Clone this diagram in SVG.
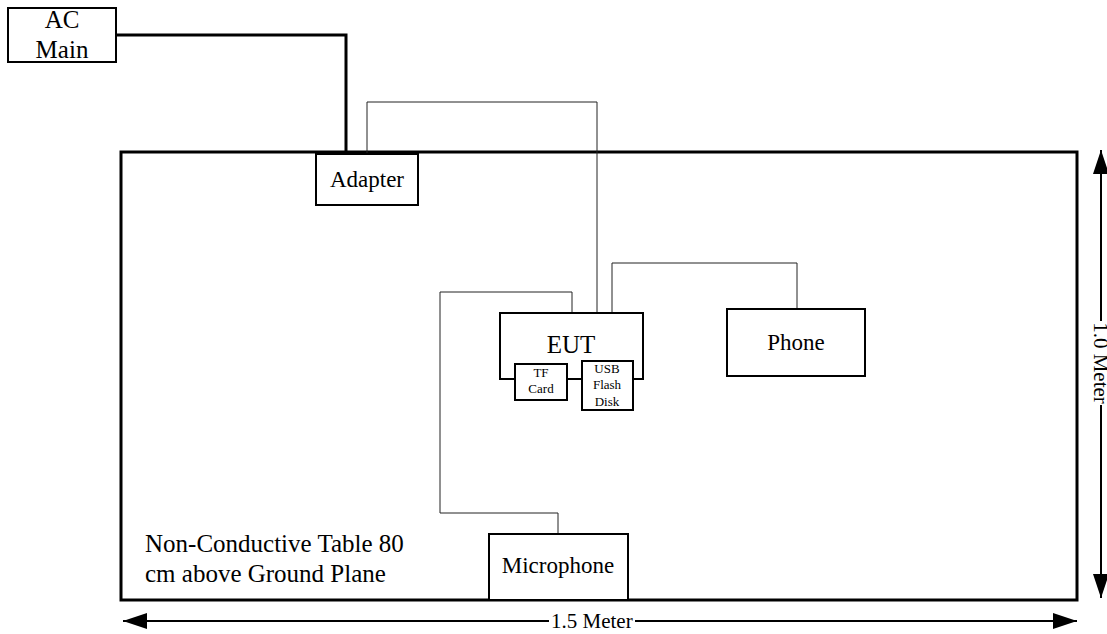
<svg xmlns="http://www.w3.org/2000/svg" width="1107" height="634" viewBox="0 0 1107 634" font-family="'Liberation Serif', 'Times New Roman', Times, 'DejaVu Serif', serif">
<style>
text{font-family:'Liberation Serif','Times New Roman',Times,'DejaVu Serif',serif;fill:#000}
.box{fill:#fff;stroke:#000;stroke-width:2}
.wire{fill:none;stroke:#222;stroke-width:1}
.power{fill:none;stroke:#000;stroke-width:3}
.dim{stroke:#000;stroke-width:2;fill:none}
.c{text-anchor:middle}
</style>
<defs>
<marker id="arr" markerUnits="userSpaceOnUse" markerWidth="24" markerHeight="16" refX="24" refY="8" orient="auto-start-reverse">
<path d="M0,0 L24,8 L0,16 Z" fill="#000"/>
</marker>
</defs>
<g id="table">
<rect x="121" y="152" width="956" height="448" fill="none" stroke="#000" stroke-width="3"/>
<text x="145" y="552" font-size="25">Non-Conductive Table 80</text>
<text x="145" y="582" font-size="25">cm above Ground Plane</text>
</g>
<g id="connectors">
<polyline class="power" points="116,35 346,35 346,154"/>
<polyline class="wire" points="367,154 367,102 597,102 597,313"/>
<polyline class="wire" points="572,313 572,292 440,292 440,513 558,513 558,534"/>
<polyline class="wire" points="612,313 612,263 797,263 797,309"/>
</g>
<g id="ac-main">
<rect class="box" x="8" y="8" width="108" height="54"/>
<text class="c" x="62" y="28" font-size="25">AC</text>
<text class="c" x="62" y="58" font-size="25">Main</text>
</g>
<g id="adapter">
<rect class="box" x="316" y="154" width="102" height="51"/>
<text class="c" x="367" y="187" font-size="23">Adapter</text>
</g>
<g id="eut">
<rect class="box" x="500" y="313" width="143" height="66"/>
<text class="c" x="571" y="353" font-size="25">EUT</text>
</g>
<g id="tf-card">
<rect class="box" x="515" y="364" width="52" height="36"/>
<text class="c" x="541" y="377" font-size="13">TF</text>
<text class="c" x="541" y="393" font-size="13">Card</text>
</g>
<g id="usb-flash-disk">
<rect class="box" x="582" y="361" width="51" height="49"/>
<text class="c" x="607" y="373" font-size="13">USB</text>
<text class="c" x="607" y="389" font-size="13">Flash</text>
<text class="c" x="607" y="406" font-size="13">Disk</text>
</g>
<g id="phone">
<rect class="box" x="727" y="309" width="138" height="67"/>
<text class="c" x="796" y="350" font-size="23">Phone</text>
</g>
<g id="microphone">
<rect class="box" x="489" y="534" width="139" height="66"/>
<text class="c" x="558" y="573" font-size="23">Microphone</text>
</g>
<g id="dimensions">
<line class="dim" x1="123" y1="621" x2="549" y2="621" marker-start="url(#arr)"/>
<line class="dim" x1="635" y1="621" x2="1077" y2="621" marker-end="url(#arr)"/>
<text x="551" y="628" font-size="21">1.5 Meter</text>
<line class="dim" x1="1101" y1="150" x2="1101" y2="321" marker-start="url(#arr)"/>
<line class="dim" x1="1101" y1="405" x2="1101" y2="598" marker-end="url(#arr)"/>
<text class="c" transform="translate(1101,363) rotate(90)" dy="0.33em" font-size="21">1.0 Meter</text>
</g>
</svg>
